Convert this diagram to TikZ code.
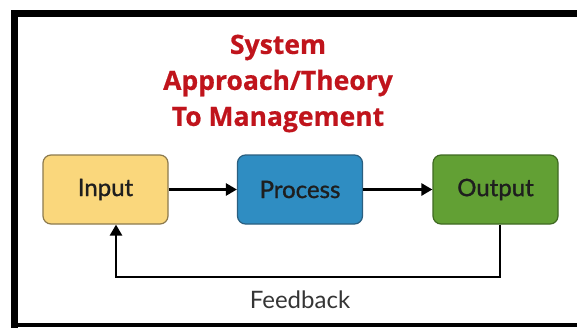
\documentclass[tikz,border=0pt]{standalone}
\usepackage{fontspec}
\setmainfont{Open Sans}
\newfontfamily\titlefont[BoldFeatures={FakeBold=0.6}]{Open Sans}
\newfontfamily\boxfont[FakeBold=1.2]{Lato}
\newfontfamily\fbfont{Lato}
\usetikzlibrary{arrows.meta}
\definecolor{titlered}{HTML}{C0141C}
\definecolor{inyellow}{HTML}{FAD77C}
\definecolor{inborder}{HTML}{8C7A4E}
\definecolor{procblue}{HTML}{2F8DC2}
\definecolor{procborder}{HTML}{2A5F80}
\definecolor{outgreen}{HTML}{62A034}
\definecolor{outborder}{HTML}{3F6A22}
\definecolor{labeldark}{HTML}{1E1E1E}
\tikzset{
  x=1pt, y=1pt,
  stagebox/.style={draw, line width=1.2pt, rounded corners=8pt, minimum width=125pt, minimum height=69pt, inner sep=0pt, font=\boxfont\fontsize{24}{26}\selectfont, text=labeldark},
  flow/.style={line width=2.6pt, -{Triangle[length=11pt,width=12pt]}},
  titletext/.style={font=\titlefont\bfseries\fontsize{26.5}{36}\selectfont, text=titlered, align=center}
}
\begin{document}
\begin{tikzpicture}
\useasboundingbox (0,0) rectangle (577,327);
\clip (0,0) rectangle (577,327);
\fill[white] (0,0) rectangle (577,327);
\draw[line width=7pt] (14.5,-10) -- (14.5,313.5) -- (600,313.5);
\fill[black] (11,0) rectangle (577,4.5);
\node[titletext] (title) at (278,243.5) {System\\Approach/Theory\\To Management};
\node[stagebox, fill=inyellow, draw=inborder] (input) at (105.5,137.5) {Input};
\node[stagebox, fill=procblue, draw=procborder] (process) at (300,137.5) {Process};
\node[stagebox, fill=outgreen, draw=outborder] (output) at (495.5,137.5) {Output};
\draw[flow] (input) -- (process);
\draw[flow] (process) -- (output);
\coordinate (fbcorner1) at (500,50);
\coordinate (fbcorner2) at (116,50);
\draw[flow] (output.south -| fbcorner1) -- (fbcorner1) -- (fbcorner2) -- (input.south -| fbcorner2);
\node[font=\fbfont\fontsize{24}{26}\selectfont, text=labeldark!90] (fb) at (300,27) {Feedback};
\end{tikzpicture}
\end{document}
